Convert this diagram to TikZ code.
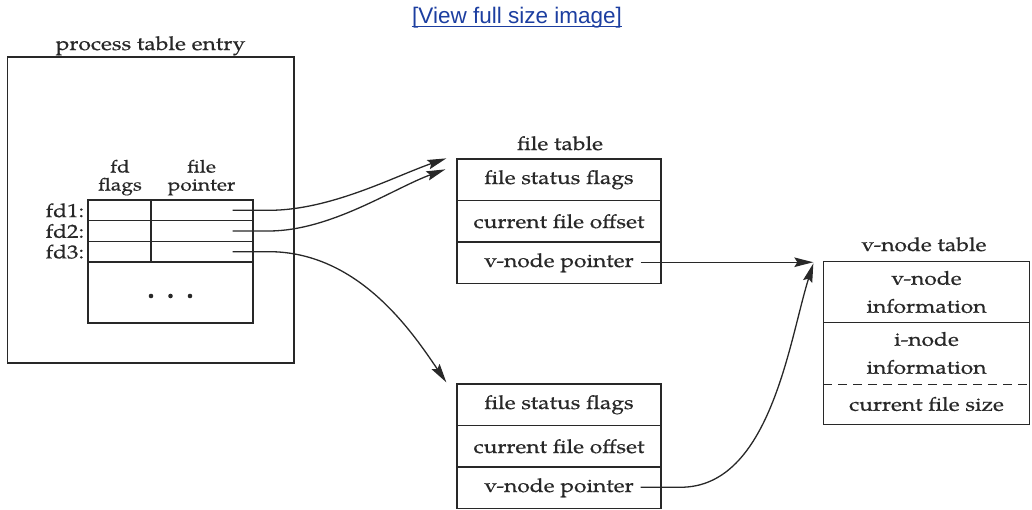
\documentclass[tikz,border=0pt]{standalone}
\usepackage{fontspec}
\setmainfont{texgyrepagella-regular.otf}[FakeStretch=1.2, FakeBold=0.5]
\setsansfont{Liberation Sans}
\usetikzlibrary{arrows.meta,calc}
\definecolor{linkblue}{RGB}{28,62,160}
\definecolor{ink}{RGB}{40,40,40}
\begin{document}
\begin{tikzpicture}[x=1pt,y=-1pt,
  color=ink, line width=1.3pt,
  txt/.style={font=\fontsize{19}{28}\selectfont, inner sep=0pt},
  colhead/.style={font=\fontsize{17.5}{20}\selectfont, inner sep=0pt, anchor=base},
  box/.style={draw, inner sep=0pt},
  row/.style={box, txt, minimum width=204pt, minimum height=41.5pt},
  fdcell/.style={box, minimum height=20.67pt},
  vrow/.style={txt, align=center, minimum width=205pt, inner sep=0pt},
  arr/.style={-{Stealth[length=19pt,width=9.5pt,inset=3pt]}},
  link/.style={font=\sffamily\fontsize{22.5}{26}\selectfont, text=linkblue, inner sep=0pt}
]
\useasboundingbox (0,0) rectangle (1032,510);

% link
\node[link, anchor=base] (lnk) at (517,23.5) {[View full size image]};
\draw[linkblue, line width=1.1pt] ($(lnk.base west)+(0,3)$) -- ($(lnk.base east)+(0,3)$);

% process table entry
\node[box, minimum width=286.5pt, minimum height=306pt] (proc) at (150.75,210) {};
\node[txt, anchor=base] (proclbl) at (150.5,50) {process table entry};

% fd table
\node[fdcell, minimum width=63pt]  (f1) at (119.5,210.33) {};
\node[fdcell, minimum width=102pt] (p1) at (202,210.33) {};
\node[fdcell, minimum width=63pt]  (f2) at (119.5,231) {};
\node[fdcell, minimum width=102pt] (p2) at (202,231) {};
\node[fdcell, minimum width=63pt]  (f3) at (119.5,251.67) {};
\node[fdcell, minimum width=102pt] (p3) at (202,251.67) {};
\node[box, minimum width=165pt, minimum height=61pt] (rest) at (170.5,292.5) {};
\foreach \dx in {-19.5,0,19.5}
  \fill ($(rest.center)+(\dx,3.5)$) circle[radius=2.3pt];

\node[colhead] (fdlbl)  at (120,172.5) {fd};
\node[colhead] (flglbl) at (120,190.5) {flags};
\node[colhead] (filelbl) at (201.5,172.5) {file};
\node[colhead] (ptrlbl) at (201.5,190.5) {pointer};

\node[txt, anchor=east] (l1) at ($(f1.west)+(-2.5,0)$) {fd1:};
\node[txt, anchor=east] (l2) at ($(f2.west)+(-2.5,0)$) {fd2:};
\node[txt, anchor=east] (l3) at ($(f3.west)+(-2.5,0)$) {fd3:};

\coordinate (s1) at ($(p1.east)+(-21,0)$);
\coordinate (s2) at ($(p2.east)+(-21,0)$);
\coordinate (s3) at ($(p3.east)+(-21,0)$);

% file table 1
\node[txt, anchor=base] (ftlbl) at (560,150) {file table};
\node[row] (a1) at (559,179.75) {file status flags};
\node[row] (a2) at (559,221.25) {current file offset};
\node[row] (a3) at (559,262.75) {v-node pointer};

% file table 2
\node[row] (b1) at (559,404.75) {file status flags};
\node[row] (b2) at (559,446.25) {current file offset};
\node[row] (b3) at (559,487.75) {v-node pointer};

% v-node table
\node[txt, anchor=base] (vtlbl) at (924,251) {v-node table};
\node[vrow, minimum height=60pt] (vinfo) at (926.5,292) {v-node\\information};
\node[vrow, minimum height=62pt] (iinfo) at (926.5,353) {i-node\\information};
\node[vrow, minimum height=40pt] (fsize) at (926.5,404) {current file size};
\draw (vinfo.north west) rectangle (fsize.south east);
\draw (vinfo.south west) -- (vinfo.south east);
\draw[dash pattern=on 9pt off 6pt] (iinfo.south west) -- (iinfo.south east);

% arrow targets and sources
\coordinate (t1) at ($(a1.north west)+(-10,0)$);
\coordinate (t2) at ($(a1.north west)+(-11,11)$);
\coordinate (t3) at ($(b1.north west)+(-10,-1)$);
\coordinate (vin) at ($(vinfo.north west)+(-10,2)$);
\coordinate (q1) at ($(a3.east)+(-21,-0.5)$);
\coordinate (q2) at ($(b3.east)+(-21,-0.5)$);

% connectors
\draw[arr] (s1) -- ++(36,0) .. controls +(62,0) and ($(t1)+(-52,18)$) .. (t1);
\draw[arr] (s2) -- ++(36,0) .. controls +(62,0) and ($(t2)+(-52,19)$) .. (t2);
\draw[arr] (s3) -- ++(36,0) .. controls +(90,0) and ($(t3)+(-34,-50)$) .. (t3);
\draw[arr] (q1) -- (q1 -| vin);
\draw[arr] (q2) -- ++(40,0) .. controls +(90,0) and ($(vin)+(-24,76)$) .. (vin);
\end{tikzpicture}
\end{document}
